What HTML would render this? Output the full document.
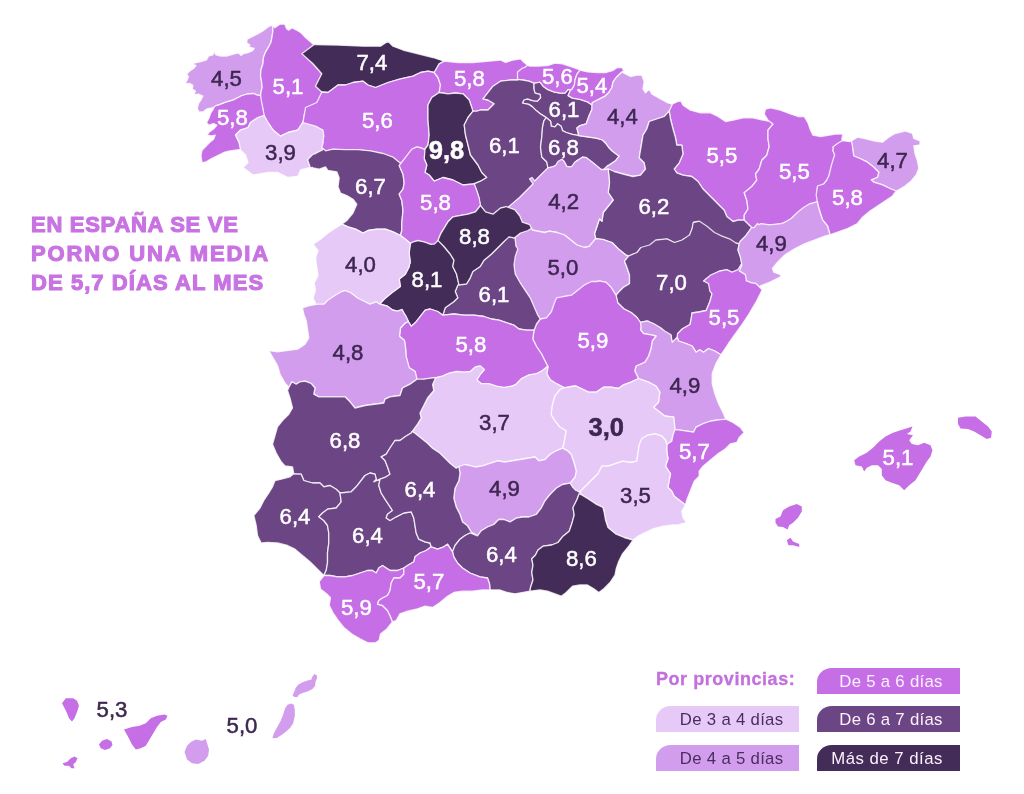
<!DOCTYPE html>
<html lang="es"><head><meta charset="utf-8"><title>Mapa</title>
<style>
html,body{margin:0;padding:0;background:#fff;}
body{width:1024px;height:794px;overflow:hidden;position:relative;font-family:"Liberation Sans","DejaVu Sans",sans-serif;}
svg{position:absolute;left:0;top:0;}
.p{stroke:#fff;stroke-width:1.3;stroke-opacity:0.8;stroke-linejoin:round;}
.c1{fill:#E6C9F7}.c2{fill:#D39DEE}.c3{fill:#C66EE6}.c4{fill:#6C4585}.c5{fill:#432C57}
.isl{stroke:none}
text{font-family:"Liberation Sans","DejaVu Sans",sans-serif;}
.n{font-size:22.2px;text-anchor:middle;stroke-width:0.5px;paint-order:stroke;}
.l{fill:#fff;stroke:#fff}.d{fill:#3d2650;stroke:#3d2650}
.b{font-weight:bold;font-size:25.5px;stroke-width:0.5px}
.title{position:absolute;left:31px;top:209.6px;font-weight:bold;font-size:22px;line-height:29.25px;color:#C873E2;-webkit-text-stroke:1.1px #C873E2;white-space:nowrap;}
.title span{display:block}
.leg{position:absolute;height:26px;width:143px;box-sizing:border-box;padding-right:17.2px;border-top-left-radius:15px 14px;font-size:16.75px;letter-spacing:0.3px;line-height:27.4px;text-align:right;white-space:nowrap;}
.lt{position:absolute;left:656px;top:669.3px;font-weight:bold;font-size:18px;letter-spacing:0.55px;color:#C36FDD;white-space:nowrap;-webkit-text-stroke:0.3px #C36FDD;}
</style></head><body>
<svg width="1024" height="794" viewBox="0 0 1024 794">
<polygon id="coruna" class="p c2" points="272.2,24.8 268.5,26.6 263.5,30.4 258.5,33.5 247.2,39.1 246.6,42.9 249.8,44.8 249.1,47.2 254.1,48.5 252.2,51 247.2,52.9 243.5,53.5 241,55.4 238.5,52.9 233.5,54.1 227.2,56 221,56 216,54.8 214.1,51.6 212.9,54.8 208.5,56 206.6,59.8 201,61.6 194.8,62.9 192.2,64.1 196,65.4 193.5,68.5 189.8,71 186.6,74.1 188.5,76.6 185.4,84.1 189.8,83.5 192.9,85.4 192.2,89.1 195.4,91 194.1,94.8 198.5,94.1 202.9,96 201,99.8 198.5,103.5 197.2,108.5 199.1,112 203,112 206.8,109 212.2,108 217.2,105.5 226,102.2 233.5,99.8 241,96 247.2,94 253.5,93.5 258.5,95.5 260.5,96 261,92.2 262.2,87.2 261.5,81 260.5,76 261,69.8 263,63.5 263.5,57.2 265.5,52.2 268.5,47.2 271,42.2 272.2,36 273,29.8"/>
<polygon id="lugo" class="p c3" points="280.5,136.2 288,132.5 298,130 303,122.5 304.2,115 306.8,107.5 318,102.5 323,93.8 321.8,92.8 322.1,92.1 322.1,91.8 315.9,86.1 322.1,73.7 321.6,73.5 313,63.8 303,53.8 314.2,45 305.5,37.5 301,32.8 296,29.8 292.2,27.8 288.5,30.2 286.5,28.5 284.8,24.2 279.8,24.2 274.8,27.8 272.2,24.8 273,29.8 272.2,36 271,42.2 268.5,47.2 265.5,52.2 263.5,57.2 263,63.5 261,69.8 260.5,76 261.5,81 262.2,87.2 261,92.2 260.5,96 260.5,100 262.9,109.7 262.7,110 263.9,115.6 267.7,122.7 268.2,122.8 273,130"/>
<polygon id="pontevedra" class="p c3" points="258.6,95.2 258.2,95.4 253.5,93.5 247.2,94 241,96 233.5,99.8 226,102.2 217.5,105.4 217.1,105.2 214.6,106.5 213.2,108.6 213.3,109.1 210.5,113.5 209,118 206.5,122.8 209,125.2 213.5,123.5 216.8,125.2 213.5,129 209,132.2 207.2,135.2 211.2,136 215.2,135.2 213.5,139.2 209.8,142.2 202,150.2 201,155.5 202,162.8 205.8,162 211.2,158.8 223.8,152.5 230,151 241,149.5 239.2,142.5 235.5,135 240.5,130 248,127.5 250.5,122.5 258,117.5 264.2,115.5 260.6,96.5 260.8,96.3 260.8,95.9 260.6,95.7"/>
<polygon id="ourense" class="p c1" points="315.6,125.9 302.9,122.2 297.7,130.1 288,132.5 280.5,136.2 273,130 268,122.5 264.2,115.5 258,117.5 250.5,122.5 248,127.5 240.5,130 235.5,135 239.2,142.5 240.5,150 245.5,155 248,162.5 243,167.5 253,175 268,172.5 278,172.5 288,177.5 298,176.2 300.5,170 310.5,167.5 308,160 313,155 323,150 323,145 324.2,135 323.8,134.5 323.9,134.2 323.3,129.9"/>
<polygon id="asturias" class="p c5" points="313.6,44.1 313.3,44.5 313.6,44.9 301.8,53.8 313,63.8 321.8,73.8 315.5,86.2 321.8,92 328,92.5 338,85 345.5,85 353,82.5 363,81.2 368,85 375.5,87.5 388,82.5 400.5,78.8 413,76.2 420.5,72.5 428,71.2 434.2,72.5 439.2,63.8 444.2,61.2 433,57.5 403,50 393,46.2 388,41.2 380.5,46.2 363,46.2 338,45 314.5,44.5 314.3,44.2"/>
<polygon id="leon" class="p c3" points="428,145 429.2,135 428,120 428,105 431.8,97.5 439.2,92.5 440.5,85 438,77.5 434.2,72.5 428,71.2 420.5,72.5 413,76.2 400.5,78.8 388,82.5 375.5,87.5 368,85 363,81.2 353,82.5 345.5,85 338,85 328,92.5 321.8,92 316.8,102.5 305.5,107.5 303,122.5 315.5,126.2 323,130 323.9,136.7 323.6,136.9 323,141.7 323.3,142.1 321.8,147.5 325.5,151.2 333,149.5 345.5,150 358,150 370.5,151.2 383,153.8 393,157.5 400.5,163.8 404.2,160 410.5,152.5 415.5,147.5 419.4,147.5 419.6,147.8 420.9,148.1 421.2,148 424.2,150"/>
<polygon id="cantabria" class="p c3" points="480.5,110 488,110 494.2,103.8 488,100 483,98.8 493,86.2 500.5,81.2 510.5,80 518,80 518,72.5 523,68.8 528,65.5 524.2,62.5 520.5,58.8 513,60 505.5,62.5 500.5,60 473,62.5 458,62.5 444.2,61.2 439.2,63.8 434.2,72.5 438,77.5 440.5,85 439.2,92.5 448,93.8 455.5,93 463,93.8 469.2,100 471.7,107.2 471.5,107.6 472.8,111.5 476.9,111.5 477.1,111.1"/>
<polygon id="palencia" class="p c5" points="439.2,92.5 448,93.8 455.5,93 463,93.8 469.2,100 473,111.2 468,117.5 464.2,125 465.5,135 470.5,155 478,165 481.8,172.5 486.8,177.5 480.5,181.2 474.2,183.8 463,185 453,180 443,177.5 434.2,181.2 429.2,175 425,172.5 426.8,165 424.2,158.8 424.2,150 428,145 429.2,135 428,120 428,105 431.8,97.5"/>
<polygon id="alava" class="p c4" points="533.8,83.1 540,82.2 543.1,86.2 547.5,89.4 553.8,91.9 560,93.1 565,93.1 568.1,89.4 570.6,90 568.1,95.6 572.5,98.1 580,99.4 587.5,101.9 592.5,105 591.9,109.4 589.4,115 586.2,123.8 580,125.6 576.9,128.1 578.8,135.6 572.5,134.4 566.2,132.5 562.5,130.6 561.2,126.2 557.5,123.8 555,126.9 551.2,126.2 550.6,121.2 546.2,117.5 541.2,114.4 536.2,110.6 532.5,106.9 528.8,104.4 522.5,103.1 523.8,100 527.5,98.8 532.5,100.6 537.5,101.2 540.6,97.5 540,94.4 535,93.1 533.8,88.8"/>
<polygon id="bizkaia" class="p c3" points="528.2,65.2 527.8,65.2 525.5,66.8 525.3,67.2 522.5,68.1 517.5,71.9 517.5,79.4 522.5,80 528.8,81.2 533.8,83.1 540,82.2 543.1,86.2 547.5,89.4 553.8,91.9 560,93.1 565,93.1 568.1,89.4 570.6,90 571.9,89.4 574.4,85 575,80 576.9,74.4 580,70 577.5,68.8 562.5,63.8 555,63.1 547.5,65.6 537.5,66.2 529.1,66"/>
<polygon id="gipuzkoa" class="p c3" points="580,70 587.5,71.9 597.5,72.5 606.2,72.5 612.5,70.6 617.5,67.5 621.9,67.5 623.8,70.6 620,73.8 616.2,77.5 613.1,81.9 611.9,87.5 608.8,92.5 605,96.2 592.5,102.5 591.9,105 587.5,101.9 580,99.4 572.5,98.1 568.1,95.6 570.6,90 571.9,89.4 574.4,85 575,80 576.9,74.4"/>
<polygon id="burgos" class="p c4" points="493,86.2 483,98.8 488,100 494.2,103.8 488,110 480.5,110 476.8,111.2 473,111.2 468,117.5 464.2,125 465.5,135 470.5,155 478,165 481.8,172.5 486.8,177.5 480.5,181.2 474.5,183.7 474.2,183.5 473.9,183.7 476.5,190.6 478.9,198.1 480.2,205.6 485.3,212.1 493,214.5 496.1,212.1 496.2,211.7 498,210.8 499.3,209.1 499.7,209.1 500.7,208.3 505.5,207.2 505.7,206.9 507.5,207.4 507.7,207.8 508,207.8 519.7,197.7 533.5,184 533.5,183.6 530.7,179.9 534.2,182 548,168.2 546.8,162 541.8,157 540.5,147 541.8,137 542.5,127.5 543.8,121.2 546.2,117.5 541.2,114.4 536.2,110.6 532.5,106.9 528.8,104.4 522.5,103.1 523.8,100 527.5,98.8 532.5,100.6 537.5,101.2 540.6,97.5 540,94.4 535,93.1 533.8,88.8 533.8,83.1 528.8,81.2 522.5,80 517.5,79.4 518,80 510.5,80 500.5,81.2"/>
<polygon id="rioja" class="p c4" points="608,165.8 615.5,160.8 619.2,155.8 617.5,155 612.5,151.2 608.8,147.5 606.2,143.8 602.5,140 596.2,138.1 578.8,135.6 572.5,134.4 566.2,132.5 562.5,130.6 561.2,126.2 557.5,123.8 555,126.9 551.2,126.2 550.6,121.2 546.2,117.5 543.8,121.2 542.5,127.5 541.8,137 540.5,147 541.8,157 546.8,162 548,168.2 553,167 558,164.5 561.8,159.5 564.2,162 566.8,167 571.8,167 575.5,162 577.9,160.1 578.3,160.2 582.6,157.4 586.1,157.8 591,161.5 601.1,169.8 604.4,169.8 604.5,169.3"/>
<polygon id="navarra" class="p c2" points="671.9,103.7 671.5,103.9 668,102.8 660.5,99 651.8,94 649.2,89 645.5,92.8 643,89 644.2,81.5 641.8,75.2 636.8,75.2 630.5,76.5 622,72.1 616.2,77.5 613.1,81.9 611.9,87.5 608.8,92.5 605,96.2 592.5,102.5 591.9,105 591.9,109.4 589.4,115 586.2,123.8 580,125.6 576.9,128.1 578.8,135.6 596.2,138.1 602.5,140 606.2,143.8 608.8,147.5 612.5,151.2 617.5,155 619.2,155.8 615.5,160.8 608.3,165.6 607.8,165.5 603.9,169.3 604,169.8 605,169.8 608.2,169.4 614.1,171.8 614.5,171.6 623,174 633,176.5 640.5,175.2 645.5,169 644.2,162.8 639.2,157.8 643,135.2 646.8,129 649.2,121.5 663.9,116.6 664.4,116.8 669.5,111.2 672.8,104.1 672.6,103.7"/>
<polygon id="huesca" class="p c3" points="763.1,119.9 762.7,120.1 753,117.8 743,117.8 733,120.2 725.5,121.5 718,116.5 710.5,112.8 700.5,112.8 690.5,110.2 683,105.2 680.5,100.2 672.5,104 669.2,111 670.5,119 673,129 675.5,137.8 676.8,145.2 681.8,145.2 683,154 679.2,162.8 674.2,169 676.8,172.8 683,175.2 691.8,176.5 698,181.5 703,189 724.2,210.2 726.8,216.5 733,221.5 738,220.2 744.2,220.2 744.2,215.2 748,209 746.8,200.2 744.2,192.8 751.8,186.5 756.8,180.2 755.5,174 759.2,169 761.8,160.2 766.8,155.2 769.2,146.5 768,139 768,130.2 772.8,124.3 773.2,124.3 773.3,123.9 768.1,119.9 767.7,120.2 768.1,121.1"/>
<polygon id="lleida" class="p c3" points="842.1,139 841.9,138.7 843,134 835.5,134 820.5,136.5 813,135.2 810.5,130.2 808,122.8 804.2,116.5 798,116.5 790.5,114 780.5,110.2 770.5,107.8 765.5,109 764.2,114 768,120.2 773,124 768,130.2 768,139 769.2,146.5 766.8,155.2 761.8,160.2 759.2,169 755.5,174 756.8,180.2 751.8,186.5 744.2,192.8 746.8,200.2 748,209 744.2,215.2 744.2,220.2 751.8,227.8 755.5,227.8 760.5,224 770.5,225.2 780.5,224 788,221.5 803,209 810.5,204 819.2,201.5 817.2,188.9 817.5,188.6 817.8,186.3 823,185.2 828,179 835.5,156.5 833,150.2 834.8,145.7 842.8,140.7 842.7,140.2 841.9,140.1"/>
<polygon id="zaragoza" class="p c4" points="632.6,254.3 637.2,252.8 640.3,248.6 644.2,247.8 653,245.2 655.5,241.5 658.3,239.9 658.6,240.1 666.9,239.2 674.5,242.8 682.1,240.3 683.9,239.1 684,238.8 689.2,237.8 689.8,234.6 690.1,234.4 692.3,228.9 693.5,222.4 698,221.5 703,225.2 710.5,231.5 718,236.5 725.5,237.8 733,242.8 739.2,244 740.5,241.5 745.5,236.5 751.8,227.8 744.2,220.2 738,220.2 733,221.5 726.8,216.5 724.2,210.2 703,189 698,181.5 691.8,176.5 683,175.2 676.8,172.8 674.2,169 679.2,162.8 683,154 681.8,145.2 676.8,145.2 675.5,137.8 673,129 670.5,119 669.2,111 664.2,116.5 649.2,121.5 646.8,129 643,135.2 639.2,157.8 644.2,162.8 645.5,169 640.5,175.2 633,176.5 623,174 614.2,171.5 608.2,169 609.5,182.5 608.2,192.5 613.2,200 603.2,212.5 602,221.2 599.5,218.8 594.5,233.8 595.8,238.8 604.5,240 612,242.5 618.2,248.8 625.5,254.8 625.7,255.3 628.9,256.1 632.4,254.7"/>
<polygon id="soria" class="p c2" points="569.6,166.7 569.3,166.9 566.8,166.4 565.2,163.1 564.8,162.9 564.2,161.2 561.8,159.2 558.2,161.2 555.4,165.6 555.1,165.6 552.9,166.7 547.8,167.9 534.7,181 532,177.5 529.5,178.8 533.2,183.8 519.5,197.5 507.8,207.5 514.5,210 519.5,216.2 522,222.5 529.5,225 532,230 544.5,232.5 549.5,231.2 557,232.5 564.5,235 577,245 584.5,247.5 589.5,246.2 595.8,238.8 594.5,233.8 599.5,218.8 602,221.2 603.2,212.5 613.2,200 608.2,192.5 609.5,182.5 608.2,169 605,169.5 601.2,169.5 591.2,161.2 586.2,157.5 582.5,157 576,161.4 575.7,161.4 575.3,161.7 571.6,166.7"/>
<polygon id="guadalajara" class="p c2" points="519.1,233.6 519.1,234.1 514.5,237.5 515.8,247.5 513.2,260 514.5,272.5 518.2,280 528.2,295 532,302.5 534.5,310 537.3,314.2 537.1,314.5 537.5,315.4 540.1,319.3 546.7,318.1 549.8,314.2 549.8,313.8 552,312.5 554.5,305 558.2,298.8 565.8,296.2 572,296.2 577,291.2 584.5,286.2 592,282.5 599.5,281.2 605.8,282.5 610.8,287.5 615.8,295.5 619.5,291.2 623.2,287.5 629.5,283.8 629.5,275 627,267.5 624.5,261.2 628.8,255.8 625.8,255 618.2,248.8 612,242.5 604.8,240.1 604.6,239.7 595.7,238.5 589.2,246.3 584.5,247.5 577,245 564.5,235 557,232.5 549.5,231.2 544.5,232.5 532.3,230.1 531.5,228.2 531.2,228 527.8,230.2 520.4,232.7"/>
<polygon id="teruel" class="p c4" points="736.6,243.1 736.2,243.3 729.5,238.8 722,236.2 714.5,232.5 707,226.2 699.5,221.2 693.2,222.5 692,228.8 689.5,235 682,240 674.5,242.5 667,238.8 655.8,240 649.5,245 640.8,247.5 637,252.5 628.8,255.8 624.5,261.2 627,267.5 629.5,275 629.5,283.8 623.2,287.5 619.5,291.2 615.8,295.5 617.5,302.5 623.8,308.8 631.2,312.5 637,317.5 640.5,322.5 647,321.2 648.8,321.7 649,322.1 653.3,323.8 659.6,327.5 660.9,328.4 661.3,328.4 664.5,332.5 670.8,335 672,342.5 675.8,340 676.2,338.4 677.5,337.4 677.7,333.6 682.5,328.8 690,324.5 691.2,318.8 692,313 698.8,312 706.2,310.5 710,301.2 712,293.8 709.5,285 709,284.8 708.8,283.3 704,280.9 704.2,280.6 704.5,280.6 705.8,279.5 705.9,279.1 712,275 719.5,271.2 727,270 732,272.5 738.2,270 742,263.8 740.8,257.5 738.2,250 739.5,243.8 738.5,243.8 738.3,243.5"/>
<polygon id="girona" class="p c2" points="851.2,141 857.5,137.2 865,138.5 875,141 882.5,142.2 888.8,137.2 895,133.5 905,131 912.5,133.5 913.8,138.5 920,141 920,144.8 913.8,146 915,153.5 917.5,161 918.8,168.5 916.2,174.8 911.2,181 905,186 898.8,189.8 896.2,191 890,188.5 882.5,184.8 873.8,182.2 871.2,179.8 877.5,177.2 878.8,172.2 873.8,167.2 867.5,162.2 860,158.5 853.8,156"/>
<polygon id="barcelona" class="p c3" points="833.5,148.2 832.7,150.3 834.7,155 833.8,157.2 831.2,166 828.8,176 826.2,181.1 825.8,181.2 823.8,183.9 817.5,186 816.2,194.8 817.5,203.5 820,212.2 822.5,219.8 827.5,226 830,234.8 847.5,228.5 857.5,223.5 862.5,217.2 870,211 892.5,196 896.2,191 890,188.5 882.5,184.8 873.8,182.2 871.2,179.8 877.5,177.2 878.8,172.2 873.8,167.2 867.5,162.2 860,158.5 853.8,156 852.6,148.8 852.8,148.4 851.4,140.7 851,140.7 849.8,141.6 842.5,140.5 837.5,143.5 832.5,147.2"/>
<polygon id="tarragona" class="p c2" points="812.1,203.2 811.9,203.5 810,203.5 803.8,207.2 797.5,212.2 791.2,218.5 783.5,222.9 783.1,222.8 781.6,223.3 781.4,223.6 768.9,224.9 768.6,224.6 760.5,223.7 758.8,224.8 757.5,223.5 754.1,227.5 751.5,227.6 745.2,236.3 740.2,241.3 739,243.7 739.1,244.1 737.9,250 740.5,257.6 741.4,262.7 741.7,263 741.2,266 738.8,271 745,274.8 746.2,281 752.5,283.5 757.4,285.1 757.5,285.5 758.9,286.8 760.2,286.3 760.3,285.9 770,282.2 780,277.2 781.2,274.8 773.8,272.2 772.5,268.5 777.5,262.2 785,254.8 795,248.5 805,243.5 825,236 830,234.8 827.5,226 822.5,219.8 820,212.2 817.6,203.8 817.8,203.5 817.6,201.9 817.2,201.7"/>
<polygon id="castellon" class="p c3" points="750.8,282.7 750.6,282.4 746.5,280.9 746.1,280 746.3,279.6 745.3,274.6 739.3,270.9 741.5,266.1 741.8,264.7 741.5,264.4 741.1,264.6 738,269.7 732,272.1 726.9,269.7 719.8,271 711,274.8 703.5,281 708.5,283.5 709.8,291 712,293.8 710,301.2 706.2,310.5 698.8,312 692,313 691.2,318.8 690,324.5 682.5,328.8 677.5,333.8 677.2,337.2 678.5,341 686,343.5 692.2,346 696,352.2 699.8,349.8 703.5,352.2 708.5,348.5 714.8,351 721,354.8 728.5,343.5 741,326 748.5,314.8 756,302.2 762.2,289.8 756,283.5"/>
<polygon id="valencia" class="p c2" points="648.8,321.6 648.5,321.2 647,320.9 640.3,322.3 640.7,327.2 640.9,327.5 640.5,329.8 643.5,333.5 651,334.8 656,336 652.2,341 651,348.5 648.5,356 644.8,362.2 636,366 634.8,371 638.5,378.5 648.5,382.2 656,386 659.8,392.2 658.5,402.2 653.5,407.2 664.8,416 673.5,417.2 674.8,429.8 678.5,429.8 693.5,432.2 696,427.2 703.5,423.5 711,421 718.5,419.8 726,419.8 723.5,413.5 718.5,403.5 714.8,393.5 712.2,383.5 712.2,373.5 716,363.5 721,354.8 714.8,351 708.5,348.5 703.5,352.2 699.8,349.8 696,352.2 692.2,346 686,343.5 678.5,341 677.2,337.2 672.2,342.2 671,334.8 664.8,331 659.8,327.2 653.5,323.5"/>
<polygon id="cuenca" class="p c3" points="599.5,280.9 597.7,281.2 597.4,281.5 591.5,281.5 584,285.2 571.5,295.2 556.5,297.8 554,304 551.5,311.5 546.5,317.8 540.2,319 536.5,324 534,330.2 532.8,339 536.5,346.5 541.5,354 547.8,366.5 546.5,374 550.2,380.2 556.5,384 564,387.8 571.5,386.5 576,386 588.5,392.2 596,392.2 603.5,387.2 611,387.2 618.5,388.5 623.5,384.8 631,382.2 638.5,378.5 634.8,371 636,366 644.8,362.2 648.5,356 651,348.5 652.2,341 656,336 651,334.8 643.5,333.5 640.5,329.8 641,327.2 640.5,322.5 637,317.5 631.2,312.5 623.8,308.8 617.7,302.7 617.8,302.4 616.1,295.3 611.1,287.3 606,282.3"/>
<polygon id="madrid" class="p c4" points="514.9,237.7 514.6,237.4 514.1,237.6 509.2,236.5 508.4,237.1 507.8,236.5 504,241.5 497.8,247.8 491.5,254 484,260.2 480.2,266.5 472.8,271.5 470.2,277.8 466.7,283.7 459.3,284.6 459.1,284 458.8,283.8 457.6,285 457.5,285.3 457.7,285.5 455.2,291.5 457.8,297.8 454,301.5 445.2,307.8 442.8,315.2 454,314 464,315.2 474,315.2 484,316.5 491.5,319 499,320.2 514,325.2 519,329 526.5,330.2 534,330.2 536.5,324 540.2,319 537.8,315.2 530.2,297.8 520.2,282.8 515.2,274 514,265.2 515.2,256.5 517.8,249 515.7,245.6 515.9,245.2"/>
<polygon id="avila" class="p c5" points="429.2,243.6 429,243.3 424.3,241.5 418,240.2 412.9,241.5 410.2,243.3 408.9,253 409.6,258.7 409.9,259 409,266.5 405.2,274 399,279 400.2,286.5 391.5,292.8 384,299 379.5,304 387.5,306.2 392.5,310 397.5,311.2 402,309.5 405,315 408,321.2 411.2,326.2 415.2,322.8 425.2,310.2 430.2,309 437.8,311.5 442.8,315.2 445.2,307.8 454,301.5 457.8,297.8 455.2,291.5 457.8,285.2 459,284 456.5,274 452.8,266.5 454,260.2 450.2,254 444,246.5 437.8,239.5 431.5,244"/>
<polygon id="toledo" class="p c3" points="442.8,376.5 446.4,374.3 446.8,374.5 449.1,373.5 456.6,371.8 456.8,371.6 464,372.8 469.9,371.6 470.3,371.8 475.4,367.3 477.4,366.8 477.6,366.5 480.2,366.5 483.7,369.9 483,370.8 483,371.2 480.2,374 476.5,380.2 481.5,384 489,384 496.5,386.5 504,387.8 511.5,386.5 516.5,384 521.5,379 529,375.2 536.5,374 541.5,371.5 547.8,366.5 541.5,354 536.5,346.5 532.8,339 534,330.2 526.5,330.2 519,329 514,325.2 499,320.2 491.5,319 484,316.5 474,315.2 464,315.2 454,314 442.8,315.2 437.8,311.5 430.2,309 425.2,310.2 415.2,322.8 411.2,326.2 408,321.2 405.5,322.5 400.5,328 399.5,336.2 404.5,340.5 405.5,347.5 406.2,357.5 409,367.8 414.9,371.3 416.8,379.5 417.6,379.5 417.8,380.2 435.2,377.8"/>
<polygon id="zamora" class="p c4" points="399.3,165.8 400.8,164 400.8,163.6 393.1,157.2 383.1,153.5 370.6,150.9 358,149.7 345.5,149.7 333,149.2 325.6,150.8 322.9,148.4 322.7,148.6 322.6,149.8 315.4,153.4 315.3,153.8 313,154.2 308,159.2 308.1,159.5 307.7,160 310.4,167.8 312.5,167.3 313,168 319.2,169.2 325.5,166.8 328,170.5 336.8,171.8 339.2,178 338,186.8 340.5,193 346.8,195.5 353,199.2 356.8,204.2 353,213 346.8,220.5 341.8,224.2 348,226.8 355.5,229.2 363,233 368,230.5 376.8,229.2 385.5,229.2 393,231.8 400.5,235.5 401.8,230.5 401.8,223 403,210.5 401.8,200.5 399.2,194.2 403,189.2 404.2,183 403,174.2"/>
<polygon id="valladolid" class="p c3" points="399.2,165.5 411.8,149.2 416.8,146.8 421.8,148 425,150 424.2,158.8 426.8,165 425,172.5 429.2,175 434.2,181.2 443,177.5 453,180 463,185 474.2,183.8 476.8,190.5 479.2,198 480.5,205.5 475.5,211.8 468,214.2 453,216.8 448,221.8 440.5,234.2 438,240.5 434.2,244.2 430.5,244.2 424.2,241.8 418,240.5 413,241.8 410.5,243.5 405.5,239.2 400.5,235.5 401.8,230.5 401.8,223 403,210.5 401.8,200.5 399.2,194.2 403,189.2 404.2,183 403,174.2"/>
<polygon id="salamanca" class="p c1" points="341.8,291.8 345.4,290.9 350.4,293.1 350.9,292.9 351.5,293.3 351.6,293.8 357.3,298.3 369.9,304.5 376.2,302.2 379.3,304.3 379.7,304.3 384.2,299.3 391.7,293.1 400.5,286.6 399.4,279.1 405.5,274.2 409.3,266.6 409.5,265 409.4,264.7 410.5,263 409.2,253 410.5,243.5 405.5,239.2 400.5,235.5 393,231.8 385.5,229.2 376.8,229.2 368,230.5 363,233 355.5,229.2 348,226.8 341.8,224.2 335.5,228 328,233 320.5,239.2 313,244.2 318,250.5 315.5,258 318,275.5 314.2,283 315.5,290.5 313,298 315.3,302.7 315.2,303.1 316,304.7 324.3,304.5 324.5,304.3 324.5,304 328,300.5 335.5,295.5"/>
<polygon id="segovia" class="p c5" points="505.7,206.5 505.3,206.9 500.5,208 493,214.2 485.5,211.8 480.5,205.5 475.5,211.8 468,214.2 453,216.8 448,221.8 440.5,234.2 438,240.5 444,246.5 450.2,254 454,260.2 452.8,266.5 456.5,274 459,285 466.5,284 470.2,277.8 472.8,271.5 480.2,266.5 484,260.2 491.5,254 504,241.5 509.2,236.8 514.2,238 520.5,233 528,230.5 531.8,228 530.9,227.4 530.9,227.1 529.7,224.7 522.3,222.2 519.8,216 514.7,209.7"/>
<polygon id="caceres" class="p c2" points="405.3,322.8 405.6,322.8 408.2,321.5 408.3,321.1 405.3,314.8 404.8,314.7 402,309.5 397.5,311.2 392.5,310 387.5,306.2 379.5,304 376.2,301.8 370,304.2 357.5,298 351.2,293 345,290.5 343.9,291.1 343.6,291 341.7,291.5 335.3,295.2 327.8,300.2 323.9,304.2 317.5,304.2 310,305.5 302.5,308 303.8,314.2 306.2,320.5 308.8,338 305,344.2 297.5,349.2 277.5,351.8 268.8,350.5 277.5,365.5 280,374.2 285,383 288.8,387.5 292,381.8 296.2,384.2 300,381.8 305,381.2 311.2,383.5 315,388 313.8,394.2 318.8,396.8 345,396.8 350,401.8 355,408 365,405.5 383.8,403 385,399.2 390,396.8 400,395.5 402.5,388 410,384.2 417,379.2 415.2,371.5 409.2,367.6 406.5,357.4 406.2,357.2 405.5,347.5 404.5,340.5 399.5,336.2 400.5,328"/>
<polygon id="ciudadreal" class="p c1" points="480.6,383.2 480.5,382.8 476.9,380.1 480.2,374.5 484.5,369.5 480.2,365.8 475.2,367 470.2,371.5 464,372 456.5,371.5 449,373.2 442.8,375.8 435.2,377.8 432.5,384.2 433.8,390.5 427.5,398 420,413 421.2,418 417.5,424.2 412,431.5 415,433.2 427.5,443.2 432.5,448.2 440,453.2 450,463.2 456.2,468.2 458.7,466.6 459.1,466.8 465.1,464.8 465.3,464.6 471.2,465.8 475,467 482.5,465.8 497.5,460.8 505,462 535,457 538.8,460.8 545,459.5 550,454.5 556.2,450.8 562.5,448.2 563.8,444.5 566.2,430.8 560,427 555,420.8 551.2,414.5 552.5,404.5 555,395.8 559.8,389.8 560.1,389.8 564.1,388.1 564.3,387.7 556.7,383.7 550.5,379.9 546.9,373.9 548.1,366.6 548,366.2 547.6,366.2 541.3,371.2 536.4,373.7 528.9,374.9 521.3,378.7 516.3,383.8 516.2,384.2 511.8,386.3 511.4,386.2 504,387.4 496.6,386.2 489.1,383.7 482.2,383.6 481.9,383.9"/>
<polygon id="albacete" class="p c1" points="673,435.3 673.3,435.1 675.1,429.8 673.8,417 673.4,416.9 673.2,417.2 664.8,416 653.5,407.2 658.5,402.2 659.8,392.2 656,386 648.5,382.2 638.5,378.5 631,382.2 623.5,384.8 618.5,388.5 611,387.2 603.5,387.2 596,392.2 588.5,392.2 576,386 571.5,386.5 564,387.8 560,389.5 555,395.8 552.5,404.5 551.2,414.5 555,420.8 560,427 566.2,430.8 563.8,444.5 562.5,448.2 567.5,450.8 571.2,454.5 573.8,462 576.2,470.8 575,477 569.2,483.2 573,488.8 579.2,492.5 598,473.8 601.8,466.2 608,466.2 623,461.2 630.5,462.5 636.8,461.2 639.2,445 641.8,438.8 648,435 655.5,433.8 661.8,436.2 665.5,440 666.8,444.5 671.8,441.2"/>
<polygon id="jaen" class="p c2" points="458.8,466.5 465,464.5 471.2,465.8 475,467 482.5,465.8 497.5,460.8 505,462 535,457 538.8,460.8 545,459.5 550,454.5 556.2,450.8 562.5,448.2 567.5,450.8 571.2,454.5 573.8,462 576.2,470.8 575,477 570,483.2 562.5,484.5 556.2,488.2 550,494.5 545,500.8 541.2,508.2 536.2,514.5 528.8,517 522.5,517 516.2,518.2 510,522 503.8,519.5 498.8,519.5 493.8,524.5 487.5,527 481.2,530.8 477.5,535.8 471.2,532 467.5,525.8 462.5,522 460,514.5 456.2,507 453.8,498.2 455,488.2 458.8,480.8 460,473.2"/>
<polygon id="alicante" class="p c3" points="674.8,429.8 678.5,429.8 693.5,432.2 696,427.2 703.5,423.5 711,421 718.5,419.8 726,419.2 733,422.5 740.5,427.5 744.2,432.5 739.2,437.5 736.8,442.5 730.5,443.8 725.5,448.8 718,453.8 703,466.2 699.2,471.2 699.2,476.2 694.2,481.2 686.8,500 685.5,505 674.2,496.2 671.8,491.2 668,487.5 669.2,480 670.5,473.8 665.5,466.2 668,458.8 666.8,451.2 666.8,444.5 671.8,441.2 673,435"/>
<polygon id="murcia" class="p c1" points="579.2,492.5 598,473.8 601.8,466.2 608,466.2 623,461.2 630.5,462.5 636.8,461.2 639.2,445 641.8,438.8 648,435 655.5,433.8 661.8,436.2 665.5,440 666.8,444.5 666.8,451.2 668,458.8 665.5,466.2 670.5,473.8 669.2,480 668,487.5 671.8,491.2 674.2,496.2 685.5,505 681.8,511.2 683,517.5 686.8,522.5 678,525 673,525 663,526.2 653,528.8 638,536.2 633,540 624.2,537.5 615.5,533.8 608,527.5 605.5,520 604.2,512.5 603,507.5 595.5,503.8 588,498.8 581.8,495"/>
<polygon id="badajoz" class="p c4" points="432.6,384.5 435.5,377.9 435.3,377.5 425,378.9 424.7,379.2 417,379.2 410,384.2 402.5,388 400,395.5 390,396.8 385,399.2 383.8,403 365,405.5 355,408 350,401.8 345,396.8 318.8,396.8 313.8,394.2 315,388 311.2,383.5 305,381.2 300,381.8 296.2,384.2 292,381.8 288.8,387.5 287.5,390.5 290,398 292.5,408 288.8,414.2 282.5,420.5 277.5,426.8 272.5,444.2 276.2,453 281.2,461.8 285,466 292.5,466.8 293.8,473.8 301.2,474.2 303.8,480.5 312.5,483 320,483 323.8,486.8 330,485.5 336.2,489.2 340,493 351.2,491.8 356.2,486.8 365,475.5 370,473 375,474.2 376.2,479.2 373.8,481.8 386.2,476.8 390,474.2 387.5,466.8 385,460.5 381.2,456.8 386.2,454.2 390,448 395,440.5 400,440.5 405,436.8 411.2,433 417.5,424.2 421.2,418 420,413 427.5,398 433.8,390.5"/>
<polygon id="huelva" class="p c4" points="275,480.5 281.2,479.2 290,476.8 293.8,473.8 301.2,474.2 303.8,480.5 312.5,483 320,483 323.8,486.8 330,485.5 336.2,489.2 340,493 341.2,501.8 336.2,508 327.5,509.2 322.5,513 318.8,516.8 323.8,520.5 327.5,525.5 328.8,533 328.8,543 327.5,553 327.5,563 326.2,570.5 323.8,575.5 310,561.8 295,549.2 287.5,545.5 277.5,543 267.5,542.5 261.2,543 257.5,535.5 256.2,525.5 253.8,515.5 260,508 263.8,500.5 268.8,493 272.5,486.8"/>
<polygon id="sevilla" class="p c4" points="340,493 351.2,491.8 356.2,486.8 365,475.5 370,473 375,474.2 376.2,479.2 373.8,481.8 380,479.2 378.8,485.5 381.2,493 385,499.2 392.5,510.5 387.5,514.2 386.2,518 390,520.5 396.2,516.8 403.8,513 411.2,511.8 413.8,518 416.2,533 418.8,539.2 425,541.8 430,543 431.2,546.8 426.2,550.5 420,553 415,556.8 413.8,561.8 407.5,565.5 403.8,568 397.5,570.5 390,570.5 382.5,565.5 378.8,568 376.2,573 372.5,570.5 367.5,570.5 352.5,575.5 345,576.8 337.5,576.8 330,575.5 323.8,575.5 326.2,570.5 327.5,563 327.5,553 328.8,543 328.8,533 327.5,525.5 323.8,520.5 318.8,516.8 322.5,513 327.5,509.2 336.2,508 341.2,501.8"/>
<polygon id="cordoba" class="p c4" points="412,431.5 415,433.2 427.5,443.2 432.5,448.2 440,453.2 450,463.2 456.2,468.2 458.8,466.5 460,473.2 458.8,480.8 455,488.2 453.8,498.2 456.2,507 460,514.5 462.5,522 467.5,525.8 471.2,532 477.5,535.8 470,533 465,535.5 460,539.2 455,545.5 452.5,551.8 447.5,544.2 443.8,546.8 437.5,549.2 431.2,546.8 430,543 425,541.8 418.8,539.2 416.2,533 413.8,518 411.2,511.8 403.8,513 396.2,516.8 390,520.5 386.2,518 387.5,514.2 392.5,510.5 385,499.2 381.2,493 378.8,485.5 380,479.2 386.2,476.8 390,474.2 387.5,466.8 385,460.5 381.2,456.8 386.2,454.2 390,448 395,440.5 400,440.5 405,436.8 411.2,433"/>
<polygon id="granada" class="p c4" points="581.7,495.3 582.1,495.2 582.1,494.8 579.4,492.2 576.2,490.3 575.8,490.4 572.5,487 570,483.2 562.5,484.5 556.2,488.2 550,494.5 545,500.8 541.2,508.2 536.2,514.5 528.8,517 522.5,517 516.2,518.2 510,522 503.8,519.5 498.8,519.5 493.8,524.5 487.5,527 481.2,530.8 477.5,535.8 470,533 465,535.5 460,539.2 455,545.5 452.5,551.8 453.8,556.8 457.5,563 462.5,568 470,573 480,576.8 487.5,578 489.5,583.8 490,590 500,590 507.5,592.5 515,593.8 530,591.2 530.5,587.5 533,580 531.8,572.5 533,565 531.8,558.8 535.5,555 538,550 543,546.2 551.8,545 558,542.5 563,536.2 569.2,531.2 571.8,523.8 574.2,515 573,507.5 576.8,500 579.1,494.1"/>
<polygon id="almeria" class="p c5" points="579.2,493.8 581.8,495 588,498.8 595.5,503.8 603,507.5 604.2,512.5 605.5,520 608,527.5 615.5,533.8 624.2,537.5 633,540 628.8,546.2 622.5,553.8 618.8,561.2 616.2,568.8 615,575 610,582.5 603.8,588.8 598.8,592.5 593.8,588.8 587.5,585 580,585 572.5,586.2 566.2,592.5 561.2,596.2 547.5,591.2 540,590 530,591.2 530.5,587.5 533,580 531.8,572.5 533,565 531.8,558.8 535.5,555 538,550 543,546.2 551.8,545 558,542.5 563,536.2 569.2,531.2 571.8,523.8 574.2,515 573,507.5 576.8,500"/>
<polygon id="cadiz" class="p c3" points="324,575.5 319.2,581.5 320.5,589 326.8,594 330.5,597.8 329.2,605.2 333,612.8 338,620.2 344.2,627.8 351.8,634 360.5,639 368,642.8 375.5,642.8 379.2,640.2 380.5,634 386.8,629 392.5,621.8 390,615.5 387.5,610.5 382.5,605.5 377.5,604.2 378.8,600.5 382.5,598 387.5,595.5 390,590.5 391.2,583 393.8,578 400,578 403.8,574.2 403.8,568 397.5,570.5 390,570.5 382.5,565.5 378.8,568 376.2,573 372.5,570.5 367.5,570.5 352.5,575.5 345,576.8 337.5,576.8 330,575.5"/>
<polygon id="malaga" class="p c3" points="403.8,568 407.5,565.5 413.8,561.8 415,556.8 420,553 426.2,550.5 431.2,546.8 437.5,549.2 443.8,546.8 447.5,544.2 452.5,551.8 453.8,556.8 457.5,563 462.5,568 470,573 480,576.8 487.5,578 489.5,583.8 490,590 482.5,590 472.5,591.2 462.5,591.2 453.8,592.5 447.5,596.2 440,602.5 432.5,607.5 425,606.2 417.5,608.8 407.5,611.2 400,613.8 396.2,620.5 392.5,621.8 390,615.5 387.5,610.5 382.5,605.5 377.5,604.2 378.8,600.5 382.5,598 387.5,595.5 390,590.5 391.2,583 393.8,578 400,578 403.8,574.2"/>
<polygon id="mallorca" class="p c3 isl" points="854.2,460.2 859.2,456.5 866.8,452.8 873,447.8 879.2,441.5 885.5,436.5 893,432.8 900.5,430.2 912.5,426.5 910.5,431.5 906.8,434 913,435.2 909.2,440.2 911.8,444 918,445.2 924.2,442.8 930.5,445.2 932.5,450.2 930.5,456.5 926.8,461.5 915.5,480.2 909.2,485.2 904.2,490.2 899.2,485.2 891.8,482.8 885.5,480.2 881.8,475.2 881.8,469 878,465.2 871.8,465.2 866.8,467.8 864.2,471.5 861.8,466.5 855.5,465.2"/>
<polygon id="menorca" class="p c3 isl" points="958,417.8 965.5,416.5 975.5,416.5 988,426.5 991.8,431.5 991,437.8 986.8,439 974.2,431.5 968,429 960.5,428.5 958,424"/>
<polygon id="ibiza" class="p c3 isl" points="775.5,519 780.5,516.5 783,510.2 789.2,506.5 796.8,504 801.8,506.5 801.8,511.5 798,517.8 793,522.8 789.2,525.2 787.5,529.5 783,527 778,526.5 775.5,522.8"/>
<polygon id="formentera" class="p c3 isl" points="786.8,540.2 790.5,537.8 793,541.5 799.2,544 799.2,547 793,545.2 788.5,545.2"/>
<polygon id="lapalma" class="p c3 isl" points="62,703.2 65.8,698.2 73.2,698.2 77,700.8 79,705.8 77,712 74.5,718.2 72,721.5 69,718.2 66.5,712"/>
<polygon id="gomera" class="p c3 isl" points="99,744.5 102,740.8 107,739 111.5,741.5 112.5,745 110,748.2 105,750 100.8,748.2"/>
<polygon id="hierro" class="p c3 isl" points="62.5,763.2 67,762 70.8,758.2 74.5,756.5 77.5,758.2 75.8,762 73.2,764.5 74.5,768.2 71.5,768.2 69,765.8 64.5,765.8"/>
<polygon id="tenerife" class="p c3 isl" points="124,729.5 132,727 139.5,725.8 145.8,723.2 150.8,718.2 157,715.8 164.5,714.5 167.5,715.8 165.8,719.5 160.8,722 157,727 145.8,745.8 140.8,748.2 135.8,749.5 132,744.5 128.2,737"/>
<polygon id="grancanaria" class="p c2 isl" points="184.5,752 187,745.8 190.8,742 195.8,739.5 202,740.8 205.8,739 209,749.5 208.2,755.8 204.5,760.8 198.2,764 192,763.2 187,759.5"/>
<polygon id="lanzarote" class="p c2 isl" points="292.5,695.4 294.4,691.6 295.6,687.9 298.1,684.8 302.5,682.2 307.5,680.4 311.2,679.8 312.5,676.6 314.4,674.1 316.9,675.4 316.9,678.5 315.6,681.6 315,686 312.5,689.1 307.5,691.6 302.5,692.9 298.8,694.8 297.5,697 294.4,697"/>
<polygon id="fuerteventura" class="p c2 isl" points="272.5,737.2 274.4,732.2 280.6,721 283.1,714.8 285,708.5 287.5,704.8 291.2,703.5 293.8,704.8 294.8,709.8 294.8,716 293.1,723.5 290,727.9 286.2,731.6 281.9,734.8 276.9,737.9 273.1,738.2"/>
<text class="n d" x="226.5" y="85.9">4,5</text>
<text class="n l" x="288" y="93.7">5,1</text>
<text class="n l" x="232.3" y="125.4">5,8</text>
<text class="n d" x="280.5" y="159.9">3,9</text>
<text class="n l" x="371.8" y="70.2">7,4</text>
<text class="n l" x="377.3" y="127.7">5,6</text>
<text class="n l" x="469.3" y="85.7">5,8</text>
<text class="n l" x="557.3" y="84.4">5,6</text>
<text class="n l" x="591.8" y="93.4">5,4</text>
<text class="n l" x="564" y="116.9">6,1</text>
<text class="n d" x="622.3" y="124.4">4,4</text>
<text class="n l b" x="446.5" y="159">9,8</text>
<text class="n l" x="504.3" y="153.2">6,1</text>
<text class="n l" x="563.5" y="154.9">6,8</text>
<text class="n l" x="370.5" y="194.2">6,7</text>
<text class="n l" x="435.5" y="210.4">5,8</text>
<text class="n d" x="563.7" y="208.7">4,2</text>
<text class="n l" x="653.8" y="214.4">6,2</text>
<text class="n l" x="721.8" y="162.7">5,5</text>
<text class="n l" x="794.3" y="178.9">5,5</text>
<text class="n d" x="892.5" y="167.9">4,7</text>
<text class="n l" x="847.5" y="205.4">5,8</text>
<text class="n d" x="771.3" y="250.9">4,9</text>
<text class="n l" x="474.5" y="243.9">8,8</text>
<text class="n d" x="360.5" y="271.7">4,0</text>
<text class="n l" x="427" y="286.9">8,1</text>
<text class="n l" x="494" y="302.2">6,1</text>
<text class="n d" x="562.8" y="274.9">5,0</text>
<text class="n l" x="671.5" y="289.9">7,0</text>
<text class="n l" x="724" y="325.4">5,5</text>
<text class="n d" x="348" y="360">4,8</text>
<text class="n l" x="470.8" y="351.9">5,8</text>
<text class="n l" x="592.8" y="347.7">5,9</text>
<text class="n d" x="684.8" y="393.4">4,9</text>
<text class="n l" x="345" y="447.9">6,8</text>
<text class="n d" x="494.5" y="430.2">3,7</text>
<text class="n d b" x="606.2" y="435.6">3,0</text>
<text class="n l" x="694.3" y="458.7">5,7</text>
<text class="n l" x="295" y="524.2">6,4</text>
<text class="n l" x="420" y="497.4">6,4</text>
<text class="n d" x="504.5" y="496.4">4,9</text>
<text class="n d" x="635.5" y="503.2">3,5</text>
<text class="n l" x="367.5" y="543.4">6,4</text>
<text class="n l" x="501.3" y="561.9">6,4</text>
<text class="n l" x="581.3" y="566.2">8,6</text>
<text class="n l" x="428.8" y="589.4">5,7</text>
<text class="n l" x="356.3" y="614.9">5,9</text>
<text class="n l" x="898" y="465.4">5,1</text>
<text class="n d" x="112" y="717.4">5,3</text>
<text class="n d" x="242" y="732.9">5,0</text>
</svg>
<div class="title"><span style="letter-spacing:0.72px">EN ESPAÑA SE VE</span><span style="letter-spacing:1.9px">PORNO UNA MEDIA</span><span style="letter-spacing:1.07px">DE 5,7 DÍAS AL MES</span></div>
<div class="lt">Por provincias:</div>
<div class="leg" style="left:817px;top:667.8px;background:#C66EE6;color:#fdf0ff;">De 5 a 6 días</div>
<div class="leg" style="left:817px;top:706.3px;background:#6C4585;color:#fdf0ff;">De 6 a 7 días</div>
<div class="leg" style="left:817px;top:744.7px;background:#432C57;color:#fdf0ff;letter-spacing:0.48px;">Más de 7 días</div>
<div class="leg" style="left:656px;top:706.3px;background:#E6C9F7;color:#4a2d5e;padding-right:15.6px;">De 3 a 4 días</div>
<div class="leg" style="left:656px;top:744.7px;background:#D39DEE;color:#4a2d5e;padding-right:15.6px;">De 4 a 5 días</div>
</body></html>
